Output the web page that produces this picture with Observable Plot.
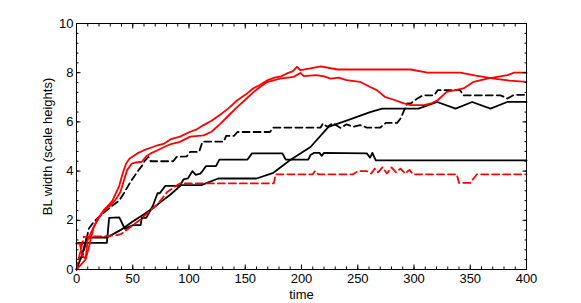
<!DOCTYPE html>
<html><head><meta charset="utf-8">
<script src="https://cdn.jsdelivr.net/npm/d3@7"></script>
<script src="https://cdn.jsdelivr.net/npm/@observablehq/plot@0.6"></script>
<style>body{margin:0;background:#fff;}</style>
</head><body><div id="chart"></div>
<script>
// tick values
const xMajor = [0, 50, 100, 150, 200, 250, 300, 350, 400];
const xMinor = d3.range(0, 41).map(i => i * 10);
const yMajor = [0, 2, 4, 6, 8, 10];
const yMinor = d3.range(0, 26).map(i => +(i * 0.4).toFixed(1));

// series: [time, BL width]
const redUpper = [[0,1.05],[3,1.05],[5,0.55],[8,0.45],[10,1.2],[14,1.6],[18,2.0],[24,2.4],[28,2.6],[32,2.8],[35,3.1],[38,3.4],[41,3.9],[44,4.3],[47,4.5],[54,4.72],[60,4.85],[66,4.95],[72,5.05],[78,5.12],[84,5.3],[92,5.4],[101,5.6],[107,5.7],[113,5.87],[120,6.05],[128,6.3],[135,6.55],[143,6.88],[150,7.1],[157,7.36],[163,7.5],[170,7.7],[176,7.8],[182,7.85],[187,7.97],[192,8.05],[196,8.24],[199,8.1],[208,8.18],[217,8.26],[232,8.13],[297,8.13],[312,8.0],[341,8.0],[355,7.88],[371,7.76],[385,7.68],[400,7.63]];
const redLower = [[0,0.0],[4,0.2],[8,0.4],[11,0.9],[13,1.3],[15.4,1.73],[20,2.1],[24,2.35],[30,2.6],[35,2.85],[39,3.15],[42,3.6],[45,4.04],[49,4.3],[53,4.35],[58,4.38],[62,4.6],[66,4.72],[72,4.85],[78,4.98],[84,5.1],[92,5.19],[101,5.4],[113,5.45],[120,5.6],[128,5.93],[135,6.25],[143,6.61],[150,6.9],[157.6,7.22],[164,7.45],[170,7.63],[181,7.76],[193,7.83],[199,7.99],[202,7.86],[213,7.9],[220,7.85],[226,7.76],[233,7.8],[240,7.7],[252,7.63],[261,7.42],[267,7.29],[274,7.02],[282,6.9],[291,6.75],[297,6.68],[309,6.68],[315,6.75],[321,6.88],[329,7.22],[344,7.36],[353,7.63],[365,7.76],[383,7.9],[389,8.0],[400,8.0]];
const blackDashed = [[0,0.0],[2,0.45],[5,0.5],[7.4,0.92],[11,1.67],[15.4,1.94],[24,2.3],[32,2.6],[38,2.8],[42,3.09],[48,3.56],[54,3.97],[58,4.2],[61,4.44],[64,4.58],[66,4.4],[86,4.4],[89,4.58],[98,4.6],[101,4.78],[109,4.78],[112,5.2],[131,5.2],[133,5.43],[140,5.43],[143,5.59],[172,5.59],[175,5.77],[217,5.77],[219,5.93],[223,5.8],[228,5.95],[235,5.75],[240,5.9],[246,5.8],[252,5.87],[258,5.77],[270,5.77],[275,5.96],[285,5.96],[288,6.14],[294,6.75],[297,6.75],[303,6.95],[308,7.08],[318,7.08],[321,7.29],[341,7.29],[344,7.08],[377,7.08],[383,6.95],[389,7.1],[400,7.1]];
const blackStep = [[0,1.08],[27,1.08],[29,2.1],[38,2.12],[43,1.65],[45,1.7],[50,1.8],[57,1.8],[58,2.1],[62,2.1],[68,2.6],[72,3.1],[74,3.1],[79,3.4],[92,3.4],[95,3.66],[99,3.7],[103,4.0],[106,3.85],[110,3.9],[112,4.0],[115,4.2],[124,4.2],[127,4.47],[152,4.47],[156,4.72],[183,4.72],[186,4.47],[206,4.47],[208,4.65],[211,4.74],[216,4.74],[218,4.62],[220,4.74],[258,4.72],[261,4.55],[263,4.74],[266,4.44],[400,4.44]];
const blackSmooth = [[0,0.0],[5,0.6],[9,1.3],[27,1.3],[39,1.6],[50,1.95],[60,2.25],[68.7,2.52],[75,2.75],[83.6,3.05],[93,3.43],[111,3.43],[126,3.7],[160,3.7],[175,3.93],[190,4.45],[208,4.98],[224,5.8],[240,6.05],[261,6.4],[271.7,6.54],[304,6.54],[320.6,6.81],[337,6.54],[351.7,6.81],[368,6.54],[382.8,6.81],[400,6.81]];
const redDashed = [[0,0.0],[1,0.24],[6.5,1.33],[24,1.35],[36,1.4],[40,1.45],[48,1.73],[56,2.0],[65.8,2.41],[72,2.65],[80.6,3.15],[89.5,3.43],[92,3.5],[175.4,3.5],[177,3.87],[210,3.87],[212,4.0],[215,3.87],[246,3.87],[250,4.0],[258,4.0],[262,3.9],[265,4.1],[268,3.95],[272,4.15],[276,3.9],[280,4.15],[284,3.95],[288,4.1],[292,3.9],[296,4.05],[299,3.87],[338,3.87],[340,3.52],[350,3.52],[353,3.7],[356,3.87],[400,3.87]];

const xLabel = "time";
const yLabel = "BL width (scale heights)";

const lineOpts = {x: d => d[0], y: d => d[1], strokeWidth: 1.8, strokeLinejoin: "round"};
const blank = () => "";

const chart = Plot.plot({
  width: 581, height: 303,
  marginLeft: 76, marginRight: 55, marginTop: 23, marginBottom: 34,
  style: {fontFamily: "'Liberation Sans', Arial, sans-serif", fontSize: "13px", background: "#fff", color: "#000"},
  x: {domain: [0, 400], axis: null},
  y: {domain: [0, 10], axis: null},
  marks: [
    Plot.line(blackStep, {...lineOpts, stroke: "#000"}),
    Plot.line(blackSmooth, {...lineOpts, stroke: "#000"}),
    Plot.line(blackDashed, {...lineOpts, stroke: "#000", strokeDasharray: "7,4"}),
    Plot.line(redDashed, {...lineOpts, stroke: "#ff0000", strokeDasharray: "7,4"}),
    Plot.line(redLower, {...lineOpts, stroke: "#ff0000"}),
    Plot.line(redUpper, {...lineOpts, stroke: "#ff0000"}),
    Plot.frame({stroke: "#000", strokeWidth: 1}),
    // minor & major inward ticks on all four sides
    Plot.axisX(xMinor, {anchor: "bottom", tickSize: -2.5, tickFormat: blank, label: null}),
    Plot.axisX(xMinor, {anchor: "top", tickSize: -2.5, tickFormat: blank, label: null}),
    Plot.axisX(xMajor, {anchor: "bottom", tickSize: -4.5, tickFormat: blank, label: null}),
    Plot.axisX(xMajor, {anchor: "top", tickSize: -4.5, tickFormat: blank, label: null}),
    Plot.axisY(yMinor, {anchor: "left", tickSize: -2.5, tickFormat: blank, label: null}),
    Plot.axisY(yMinor, {anchor: "right", tickSize: -2.5, tickFormat: blank, label: null}),
    Plot.axisY(yMajor, {anchor: "left", tickSize: -4.5, tickFormat: blank, label: null}),
    Plot.axisY(yMajor, {anchor: "right", tickSize: -4.5, tickFormat: blank, label: null}),
    // labels
    Plot.axisX(xMajor, {anchor: "bottom", tickSize: 0, tickPadding: 4, label: null, fontSize: 13}),
    Plot.axisY(yMajor, {anchor: "left", tickSize: 0, tickPadding: 3, label: null, fontSize: 13}),
    Plot.text([xLabel], {frameAnchor: "bottom", dy: 25, fontSize: 13, lineAnchor: "middle", textAnchor: "middle"}),
    Plot.text([yLabel], {frameAnchor: "left", dx: -29, rotate: -90, fontSize: 13, lineAnchor: "middle", textAnchor: "middle"})
  ]
});
document.getElementById("chart").appendChild(chart);
</script>
</body></html>
